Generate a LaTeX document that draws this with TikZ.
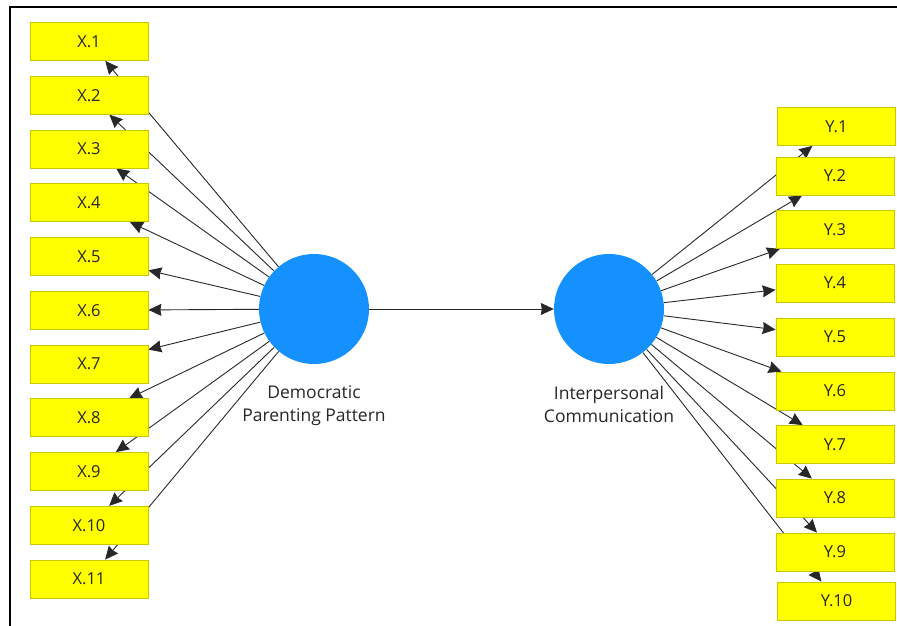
\documentclass[tikz,border=0pt]{standalone}
\usepackage{fontspec}
\setmainfont{Open Sans}
\usetikzlibrary{arrows.meta,backgrounds}

\definecolor{lvblue}{RGB}{20,145,255}
\definecolor{indyellow}{RGB}{255,255,0}
\definecolor{indedge}{RGB}{200,200,0}
\definecolor{pathgray}{RGB}{40,40,40}

\tikzset{
  ind/.style={rectangle,fill=indyellow,draw=indedge,line width=0.8pt,
    minimum width=118pt,minimum height=38pt,inner sep=0pt,
    font=\fontsize{16.5}{18}\selectfont,text=black!85},
  latent/.style={circle,fill=lvblue,minimum size=110pt,inner sep=0pt},
  lvname/.style={align=center,font=\fontsize{17.5}{23}\selectfont,text=black!85},
  loading/.style={->,draw=pathgray,line width=0.9pt}
}

\begin{document}
\begin{tikzpicture}[x=1pt,y=-1pt,>={Stealth[length=13pt,width=12pt,inset=1pt]}]
        \useasboundingbox (0,0) rectangle (897,626);
        % frame
        \draw[line width=2pt] (10,626) -- (10,7) -- (897,7);
        % latent variables
        \node[latent] (DPP) at (314,309) {};
        \node[latent] (IC) at (609,309) {};
        \node[lvname,below=18pt] (DPPname) at (DPP.south) {Democratic\\Parenting Pattern};
        \node[lvname,below=18pt] (ICname) at (IC.south) {Interpersonal\\Communication};
        % indicators
        \foreach \i in {1,...,11}
          \node[ind] (X\i) at (89,{41.5+53.75*(\i-1)}) {X.\i};
        \foreach \i/\xx/\yy in {1/836.5/126.5,2/835/176,3/835/229.5,4/835/283,5/835/337,
                                6/835/391,7/835/444.5,8/835/498,9/835/552,10/836.5/601}
          \node[ind] (Y\i) at (\xx,\yy) {Y.\i};
        % paths
        \begin{scope}[on background layer]
          \foreach \i in {1,...,11}
            \draw[loading] (DPP) -- (X\i);
          \foreach \i in {1,...,10}
            \draw[loading] (IC) -- (Y\i);
        \end{scope}
        \draw[loading] (DPP) -- (IC);
      \end{tikzpicture}
\end{document}
